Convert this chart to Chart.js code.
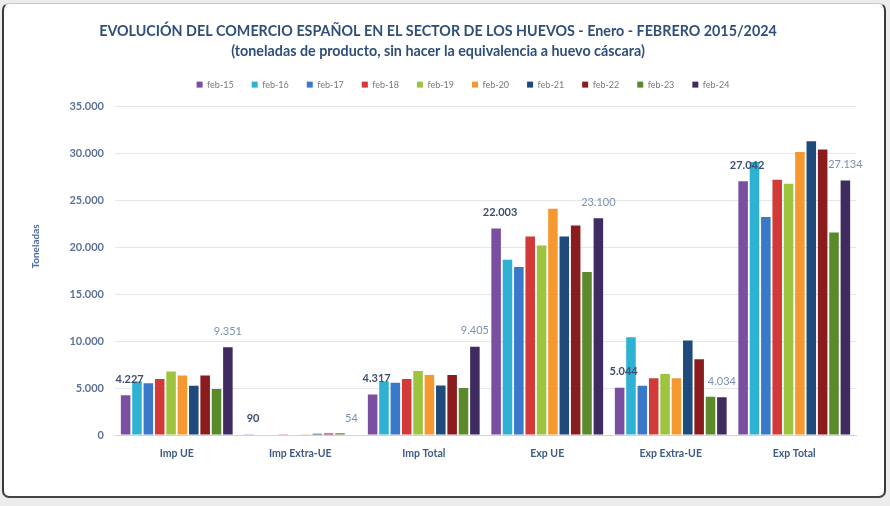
<!DOCTYPE html>
<html>
<head>
<meta charset="utf-8">
<script src="https://cdn.jsdelivr.net/npm/chart.js@4/dist/chart.umd.min.js"></script>
<style>
  html, body { margin: 0; padding: 0; background: #ececec; width: 890px; height: 506px; overflow: hidden; }
  #frame { position: absolute; left: 2px; top: 3px; width: 880px; height: 492px; background: #ffffff;
           border-left: 2px solid #3a3a3a; border-right: 2px solid #3a3a3a; border-bottom: 2px solid #444;
           border-top: 1px solid #c8c8c8; border-radius: 7px; }
  #c { position: absolute; left: 0; top: 0; }
</style>
</head>
<body>
<div id="frame"></div>
<canvas id="c" width="890" height="506"></canvas>
<script>
// ---- data ----
const categories = ['Imp UE', 'Imp Extra-UE', 'Imp Total', 'Exp UE', 'Exp Extra-UE', 'Exp Total'];
const seriesNames = ['feb-15', 'feb-16', 'feb-17', 'feb-18', 'feb-19', 'feb-20', 'feb-21', 'feb-22', 'feb-23', 'feb-24'];
const feb15 = [4227, 90, 4317, 22003, 5044, 27042];
const feb16 = [5690, 60, 5690, 18680, 10430, 29100];
const feb17 = [5510, 50, 5580, 17900, 5260, 23230];
const feb18 = [5980, 80, 5980, 21160, 6050, 27210];
const feb19 = [6760, 40, 6830, 20200, 6510, 26790];
const feb20 = [6330, 70, 6400, 24120, 6050, 30170];
const feb21 = [5260, 120, 5270, 21160, 10070, 31300];
const feb22 = [6330, 150, 6400, 22340, 8080, 30420];
const feb23 = [4910, 180, 5020, 17360, 4090, 21590];
const feb24 = [9351, 54, 9405, 23100, 4034, 27134];
const seriesValues = [feb15, feb16, feb17, feb18, feb19, feb20, feb21, feb22, feb23, feb24];
const yTicks = [0, 5000, 10000, 15000, 20000, 25000, 30000, 35000];

const colors = ['#7a4ea0', '#2eb1d2', '#3a78c9', '#d23a3a', '#9cc43e', '#f5982f', '#1f4b7c', '#8a1c1e', '#5b8a2b', '#3f2b60'];

function fmt(v) {
  return String(Math.round(v)).replace(/\B(?=(\d{3})+(?!\d))/g, '.');
}

const labelPlugin = {
  id: 'valueLabels',
  afterDatasetsDraw(chart) {
    const ctx = chart.ctx;
    ctx.save();
    ctx.textAlign = 'center';
    ctx.textBaseline = 'middle';
    [0, 9].forEach(di => {
      const meta = chart.getDatasetMeta(di);
      meta.data.forEach((bar, i) => {
        const v = chart.data.datasets[di].data[i];
        if (di === 0) {
          ctx.font = 'bold 11px Lato';
          ctx.fillStyle = '#3c4f70';
        } else {
          ctx.font = '11px Lato';
          ctx.fillStyle = '#7b90b2';
        }
        ctx.fillText(fmt(v), bar.x + (di === 0 ? 4 : 0), bar.y - 16);
      });
    });
    ctx.restore();
  }
};

const legendShift = {
  id: 'legendShift',
  afterLayout(chart) {
    const lg = chart.legend;
    if (!lg) return;
    lg.top -= 7.5; lg.bottom -= 7.5;
    lg.left += 25; lg.right += 25;
  }
};

new Chart(document.getElementById('c'), {
  type: 'bar',
  data: {
    labels: categories,
    datasets: seriesNames.map((n, i) => ({
      label: n,
      data: seriesValues[i],
      backgroundColor: colors[i],
      borderWidth: 0,
      categoryPercentage: 0.92,
      barPercentage: 0.84
    }))
  },
  options: {
    responsive: false,
    animation: false,
    layout: { padding: { top: 11, left: 20, right: 34, bottom: 36 } },
    plugins: {
      title: {
        display: true,
        text: ['EVOLUCIÓN DEL COMERCIO ESPAÑOL EN EL SECTOR DE LOS HUEVOS - Enero - FEBRERO 2015/2024',
               '(toneladas de producto, sin hacer la equivalencia a huevo cáscara)'],
        color: '#2f4f7a',
        font: { family: 'Lato', size: 14.3, weight: 'bold', lineHeight: 1.42 },
        padding: { top: 10, bottom: 8 }
      },
      legend: {
        display: true,
        position: 'top',
        labels: {
          boxWidth: 6, boxHeight: 6,
          color: '#7a7a7a',
          font: { family: 'Lato', size: 9 },
          padding: 18
        }
      },
      tooltip: { enabled: false }
    },
    scales: {
      x: {
        grid: { display: false },
        border: { color: '#d2d2d2' },
        ticks: { color: '#3e5b84', font: { family: 'Lato', size: 10.5, weight: 'bold' }, padding: 4 },
        afterFit(s) { s.height = 35; }
      },
      y: {
        min: 0, max: 35000,
        afterBuildTicks(s) { s.ticks = yTicks.map(v => ({ value: v })); },
        grid: { color: '#e6e7ee', drawTicks: false },
        border: { display: false },
        ticks: { color: '#5d7296', font: { family: 'Lato', size: 11, weight: 'bold' }, padding: 11,
                 callback: v => fmt(v) },
        title: { display: true, text: '                    Toneladas', color: '#4f6e9c',
                 font: { family: 'Lato', size: 10, weight: 'bold' }, padding: { top: 10, bottom: 0 } },
        afterFit(s) { s.width = 95; }
      }
    }
  },
  plugins: [labelPlugin, legendShift]
});
</script>
</body>
</html>
